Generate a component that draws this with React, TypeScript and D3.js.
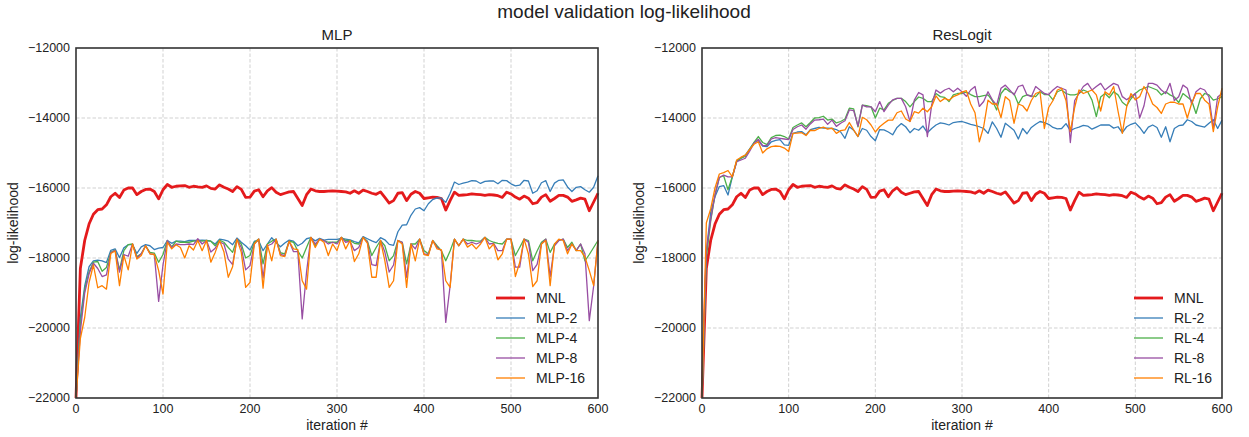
import React from 'react';
import * as d3 from 'd3';

// iterations sampled every 5 steps, 0..600
const iterations = d3.range(0, 601, 5);

const xTicks = [0, 100, 200, 300, 400, 500, 600];
const yTicks = [-22000, -20000, -18000, -16000, -14000, -12000];

const mnl = [
  -22000, -18300, -17500, -17030, -16750, -16620, -16600, -16480, -16250, -16150,
  -16270, -16060, -16000, -16000, -16190, -16100, -16040, -16030, -16100, -16310,
  -16050, -15900, -15980, -15950, -15940, -15930, -15980, -15950, -15970, -15980,
  -15940, -16010, -16030, -15910, -15980, -16030, -16100, -15960, -16040, -16270,
  -16260, -16090, -16050, -16250, -16080, -15990, -16120, -16190, -16150, -16110,
  -16100, -16300, -16500, -16190, -16030, -16080, -16100, -16100, -16090, -16080,
  -16090, -16100, -16110, -16150, -16080, -16150, -16060, -16100, -16150, -16180,
  -16110, -16270, -16430, -16360, -16150, -16130, -16360, -16180, -16100, -16150,
  -16300, -16280, -16260, -16270, -16300, -16630, -16360, -16120, -16210, -16200,
  -16190, -16170, -16180, -16190, -16210, -16190, -16200, -16220, -16270, -16120,
  -16170, -16260, -16320, -16230, -16290, -16450, -16420, -16260, -16190, -16380,
  -16300, -16210, -16210, -16260, -16380, -16340, -16290, -16320, -16650, -16400,
  -16150,
];

const mlp2 = [
  -22000, -19700, -18800, -18250, -18080, -18060, -18080, -18130, -17780, -17740,
  -17990, -17710, -17620, -17620, -17870, -17680, -17620, -17650, -17760, -17720,
  -17700, -17500, -17580, -17520, -17520, -17530, -17500, -17500, -17500, -17490,
  -17500, -17520, -17600, -17460, -17480, -17520, -17620, -17430, -17550, -17650,
  -17770, -17520, -17510, -17790, -17600, -17420, -17560, -17680, -17570, -17490,
  -17520, -17650, -17580, -17450, -17420, -17510, -17440, -17490, -17470, -17470,
  -17470, -17440, -17460, -17480, -17530, -17570, -17390, -17450, -17510, -17560,
  -17420, -17480, -17610, -17640, -17250, -17060, -17050, -16780, -16600, -16560,
  -16650, -16450, -16330, -16280, -16290, -16410, -16150, -15830, -15900, -15860,
  -15830, -15790, -15800, -15870, -15810, -15800, -15800, -15880, -15780, -15790,
  -15880, -15940, -15920, -15780, -15800, -16150, -16080, -15850, -15790, -16100,
  -15860, -15780, -15770, -15970, -16100, -15980, -15960, -16050, -16120, -15980,
  -15650,
];

const mlp4 = [
  -22000, -19900, -18900, -18400, -18120, -18100, -18380, -18270, -17840, -17770,
  -18340, -17790, -17620, -17600, -17960, -17880, -17650, -17840, -17860, -18120,
  -17900, -17500, -17680, -17520, -17550, -17550, -17550, -17520, -17500, -17520,
  -17500, -17520, -17650, -17490, -17550, -17700, -17840, -17460, -17600, -18000,
  -17930, -17550, -17460, -18170, -17600, -17520, -17460, -17850, -17880, -17520,
  -17550, -17800, -18000, -17700, -17410, -17650, -17460, -17500, -17550, -17550,
  -17550, -17410, -17500, -17500, -17580, -17600, -17410, -17520, -17930, -17700,
  -17500, -17650, -18080, -17930, -17500, -17550, -18170, -17600, -17600, -17460,
  -17790, -17880, -17500, -17650, -17790, -18080, -17800, -17460, -17650, -17460,
  -17500, -17500, -17520, -17520, -17410, -17500, -17550, -17580, -17600, -17460,
  -17460, -17930, -17700, -17460, -17500, -18080, -17800, -17550, -17460, -17840,
  -17600, -17500, -17460, -17700, -17550, -17790, -17600, -18080, -17900, -17700,
  -17500,
];

const mlp8 = [
  -22000, -20100, -19000, -18450, -18150, -18300, -18530, -18480, -17850, -17780,
  -18400, -17900, -17950, -17600, -18000, -17880, -17650, -17880, -17900, -19240,
  -18200, -17500, -17700, -17600, -17620, -17620, -17600, -17620, -17450, -17600,
  -17500, -17830, -17720, -17540, -17600, -18030, -18190, -17460, -17700, -18340,
  -18220, -17600, -17460, -18570, -17650, -17600, -17460, -17900, -17930, -17520,
  -17820, -17820, -19740, -18400, -17410, -17600, -17460, -17500, -17600, -17550,
  -17600, -17410, -17550, -17520, -17790, -17700, -17410, -17550, -18190, -18220,
  -17500, -17830, -18400, -18200, -17500, -17550, -18550, -17600, -17740, -17460,
  -17880, -17900, -17500, -17690, -17790, -19840, -18800, -17460, -17650, -17460,
  -17600, -17550, -17600, -17550, -17410, -17600, -17580, -17790, -17790, -17460,
  -17460, -18260, -18260, -17460, -17550, -18360, -18180, -17600, -17460, -18530,
  -17650, -17500, -17460, -17790, -17600, -17780, -17600, -17880, -19790, -18800,
  -17500,
];

const mlp16 = [
  -22000, -20300, -19700, -18700, -18200, -18850, -18790, -18890, -17870, -17800,
  -18790, -17930, -18340, -17600, -18030, -17930, -17650, -17880, -17900, -18360,
  -19030, -17550, -17740, -17620, -17700, -18000, -17650, -17770, -17500, -17790,
  -17500, -18120, -17840, -17500, -17820, -18550, -18250, -17460, -17840, -18840,
  -18700, -17600, -17460, -18860, -17620, -18080, -17460, -17930, -17960, -17520,
  -17740, -17760, -18650, -18890, -17410, -17700, -17460, -17550, -17930, -17600,
  -17790, -17410, -17740, -17500, -18100, -17880, -17410, -17580, -18550, -18550,
  -17500, -18080, -18840, -18650, -17500, -17600, -18840, -17600, -18080, -17460,
  -17900, -17930, -17500, -17740, -17770, -18650, -18840, -17460, -17650, -17460,
  -17690, -17600, -17740, -17600, -17410, -17740, -17600, -18050, -17880, -17460,
  -17460, -18530, -18130, -17460, -17880, -18820, -18650, -17600, -17500, -18790,
  -17600, -17460, -17500, -17880, -17600, -17790, -17790, -17970, -18360, -18790,
  -17500,
];

const rl2 = [
  -22000, -17800, -16700, -16250, -15960, -15930, -16200, -15680, -15250, -15150,
  -15060, -14880, -14700, -14650, -14800, -14820, -14680, -14640, -14620, -14770,
  -14780, -14440, -14400, -14390, -14480, -14330, -14300, -14270, -14290, -14290,
  -14300, -14330, -14400, -14580, -14250, -14350, -14530, -14300, -14350, -14530,
  -14650, -14330, -14340, -14400, -14480, -14270, -14160, -14250, -14420, -14300,
  -14350, -14230, -14420, -14300, -14200, -14140, -14160, -14200, -14130, -14110,
  -14100, -14140, -14180, -14210, -14250, -14300, -14440, -14110, -14300, -14550,
  -14150, -14250, -14350, -14600, -14300, -14450, -14270, -14180, -14100, -14130,
  -14180, -14270, -14310, -14300, -14160, -14360, -14300, -14260, -14210, -14230,
  -14320, -14260, -14200, -14200, -14200, -14290, -14250, -14420, -14250, -14180,
  -14140, -14270, -14440, -14260, -14200, -14270, -14550, -14250, -14680, -14300,
  -14220, -14200, -14050, -14100, -14200, -14230, -14260, -14150, -14050, -14300,
  -14060,
];

const rl4 = [
  -22000, -18000, -16950, -16200, -15700, -15650, -16050, -15680, -15220, -15150,
  -15100, -14900, -14700, -14530, -14700, -14760, -14560, -14500, -14490, -14530,
  -14600, -14270, -14200, -14140, -14250, -14130, -14000, -13990, -13950, -14060,
  -14030, -14140, -14100, -14030, -13720, -13740, -14250, -13630, -13650, -13680,
  -14000, -13720, -13770, -13580, -13500, -13440, -13440, -13530, -13680, -13530,
  -13400, -13440, -13530, -13530, -13300, -13390, -13410, -13530, -13340, -13300,
  -13300, -13260, -13330, -13390, -13390, -13360, -13340, -13500, -13770, -13300,
  -13150, -13250, -13300, -13600, -13390, -13340, -13370, -13390, -13250, -13330,
  -13330, -13480, -13250, -13200, -13300, -13340, -13340, -13300, -13200, -13250,
  -13490, -13960, -13400, -13300, -13420, -13250, -13340, -13550, -13650, -13450,
  -13300, -13200, -13150, -13100, -13150, -13200, -13340, -13250, -13340, -13400,
  -13560, -13300, -13400, -13500, -13870, -13450, -13300, -13340, -13490, -13450,
  -13390,
];

const rl8 = [
  -22000, -17800, -16900, -16200, -15700, -15630, -15680, -15680, -15250, -15200,
  -15150, -14950, -14720, -14610, -14790, -14780, -14600, -14560, -14580, -14600,
  -14620, -14330, -14250, -14200, -14320, -14170, -14060, -14050, -14030, -14180,
  -14060, -14240, -14150, -14080, -13770, -13790, -14230, -13630, -13680, -13680,
  -13820, -13530, -13820, -13630, -13480, -13440, -13440, -13680, -14100, -13490,
  -13270, -13340, -14530, -13630, -13200, -13290, -13200, -13150, -13250, -13150,
  -13250, -13380, -13200, -13100, -13670, -13530, -13250, -13480, -13630, -13150,
  -13060, -13200, -13340, -13100, -13060, -13340, -13390, -13100, -13200, -13300,
  -13330, -13200, -13100, -13150, -13200, -14700, -13500, -13300, -13100, -13010,
  -13200, -13100, -13010, -13200, -13100, -13010, -13060, -13390, -13480, -13390,
  -13300, -14000, -13650, -13010, -13010, -13060, -13200, -13300, -13010, -13500,
  -13390, -13060, -13150, -13600, -13250, -13150, -13200, -13400, -14300, -13400,
  -13300,
];

const rl16 = [
  -22000, -17000, -16600, -16000, -15600, -15560, -15500, -15680, -15200, -15120,
  -15060, -14900, -14750, -14680, -15000, -14880, -14820, -14800, -14810, -14860,
  -14960, -14440, -14430, -14420, -14500, -14350, -14360, -14300, -14260, -14320,
  -14290, -14440, -14360, -14340, -14130, -14340, -14530, -13980, -14050, -14200,
  -14400, -14250, -14150, -14060, -14060, -13850, -13800, -14030, -14100, -13820,
  -13860, -13720, -13820, -13680, -13370, -13530, -13440, -13490, -13390, -13340,
  -13260, -13220, -13600, -13850, -14680, -14250, -13490, -13600, -13600, -13990,
  -13390, -13500, -14150, -13600, -13650, -13800, -13500, -13300, -13250, -14300,
  -13700, -13500, -13200, -13150, -13500, -14390, -13700, -13200, -13300, -13250,
  -13200, -13340, -13800, -13250, -13340, -13100, -13800, -14440, -13680, -13300,
  -13480, -13390, -13100, -13300, -13600, -13700, -13870, -13600, -13550, -13550,
  -13600, -13600, -14000, -13580, -13300, -13300, -13490, -13600, -14390, -13680,
  -13150,
];

type Series = { name: string; values: number[]; color: string; width: number };

const palette = {
  red: '#e41a1c',
  blue: '#377eb8',
  green: '#4daf4a',
  purple: '#984ea3',
  orange: '#ff7f00',
};

const mlpSeries: Series[] = [
  { name: 'MNL', values: mnl, color: palette.red, width: 2.8 },
  { name: 'MLP-2', values: mlp2, color: palette.blue, width: 1.3 },
  { name: 'MLP-4', values: mlp4, color: palette.green, width: 1.3 },
  { name: 'MLP-8', values: mlp8, color: palette.purple, width: 1.3 },
  { name: 'MLP-16', values: mlp16, color: palette.orange, width: 1.3 },
];

const rlSeries: Series[] = [
  { name: 'MNL', values: mnl, color: palette.red, width: 2.8 },
  { name: 'RL-2', values: rl2, color: palette.blue, width: 1.3 },
  { name: 'RL-4', values: rl4, color: palette.green, width: 1.3 },
  { name: 'RL-8', values: rl8, color: palette.purple, width: 1.3 },
  { name: 'RL-16', values: rl16, color: palette.orange, width: 1.3 },
];

const FONT = '"Liberation Sans", Arial, sans-serif';
const fmt = (v: number) => (v < 0 ? '\u2212' + Math.abs(v) : String(v));

const Panel: React.FC<{ x0: number; x1: number; title: string; series: Series[]; legendX: number }> = ({
  x0, x1, title, series, legendX,
}) => {
  const top = 48;
  const bottom = 398;
  const x = d3.scaleLinear().domain([0, 600]).range([x0, x1]);
  const y = d3.scaleLinear().domain([-22000, -12000]).range([bottom, top]);
  const line = d3.line<number>()
    .x((_, i) => x(iterations[i]))
    .y(d => y(d));

  return (
    <g>
      {/* grid */}
      {xTicks.slice(1, -1).map(t => (
        <line key={'gx' + t} x1={x(t)} x2={x(t)} y1={top} y2={bottom}
          stroke="#cccccc" strokeWidth={0.9} strokeDasharray="3.5,2" />
      ))}
      {yTicks.slice(1, -1).map(t => (
        <line key={'gy' + t} x1={x0} x2={x1} y1={y(t)} y2={y(t)}
          stroke="#cccccc" strokeWidth={0.9} strokeDasharray="3.5,2" />
      ))}

      {series.map(s => (
        <path key={s.name} d={line(s.values) || ''} fill="none" stroke={s.color}
          strokeWidth={s.width} strokeLinejoin="round" />
      ))}

      <rect x={x0} y={top} width={x1 - x0} height={bottom - top} fill="none" stroke="#333" strokeWidth={1.6} />

      {/* tick labels */}
      {xTicks.map(t => (
        <text key={'tx' + t} x={x(t)} y={bottom + 15} textAnchor="middle" fontSize={12.5} fill="#222">{t}</text>
      ))}
      {yTicks.map(t => (
        <text key={'ty' + t} x={x0 - 6} y={y(t) + 4} textAnchor="end" fontSize={12.5} fill="#222">{fmt(t)}</text>
      ))}

      <text x={(x0 + x1) / 2} y={bottom + 32} textAnchor="middle" fontSize={14} fill="#222">iteration #</text>
      <text transform={`translate(${x0 - 58},${(top + bottom) / 2}) rotate(-90)`} textAnchor="middle"
        fontSize={14} fill="#222">log-likelihood</text>
      <text x={(x0 + x1) / 2} y={top - 8} textAnchor="middle" fontSize={15} fill="#222">{title}</text>

      {/* legend */}
      {series.map((s, i) => (
        <g key={'lg' + s.name} transform={`translate(${legendX},${298 + i * 20})`}>
          <line x1={0} x2={29} y1={0} y2={0} stroke={s.color} strokeWidth={s.width} />
          <text x={40} y={5} fontSize={14} fill="#222">{s.name}</text>
        </g>
      ))}
    </g>
  );
};

export default function App() {
  return (
    <div style={{ position: 'absolute', left: 0, top: 0 }}>
      <svg width={1249} height={437} style={{ display: 'block', fontFamily: FONT }}>
        <rect width={1249} height={437} fill="#ffffff" />
        <text x={624} y={18} textAnchor="middle" fontSize={19} fill="#222">model validation log-likelihood</text>
        <Panel x0={76} x1={598} title="MLP" series={mlpSeries} legendX={496} />
        <Panel x0={702} x1={1222} title="ResLogit" series={rlSeries} legendX={1134} />
      </svg>
    </div>
  );
}
